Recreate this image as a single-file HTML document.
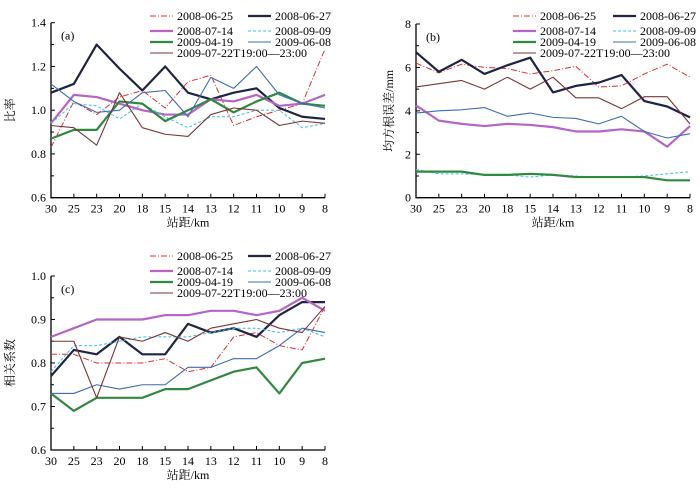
<!DOCTYPE html>
<html><head><meta charset="utf-8">
<style>
body{margin:0;background:#fff;}
svg{display:block;font-family:"Liberation Serif","Noto Serif CJK SC",serif;}
</style></head>
<body>
<svg id="chart" width="700" height="490" viewBox="0 0 700 490" xmlns="http://www.w3.org/2000/svg"></svg>
<script>
const categories = ["30","25","23","20","18","15","14","13","12","11","10","9","8"];
const seriesNames = ["2008-06-25","2008-06-27","2008-07-14","2008-09-09","2009-04-19","2009-06-08","2009-07-22T19:00—23:00"];
// panel a: ratio
const ratio_0625 = [0.83,1.04,0.98,1.06,1.09,1.01,1.13,1.16,0.93,0.97,1.00,1.03,1.28];
const ratio_0627 = [1.08,1.12,1.30,1.19,1.09,1.20,1.08,1.05,1.08,1.10,1.01,0.97,0.96];
const ratio_0714 = [0.94,1.07,1.06,1.03,1.00,0.98,0.98,1.05,1.04,1.07,1.02,1.03,1.07];
const ratio_0909 = [0.94,1.03,1.02,0.96,1.03,0.97,0.92,0.97,0.97,1.00,1.00,0.92,0.94];
const ratio_0419 = [0.87,0.91,0.91,1.04,1.03,0.95,1.00,1.05,0.99,1.04,1.08,1.03,1.02];
const ratio_0608 = [1.12,1.04,0.99,1.00,1.08,1.09,0.97,1.15,1.10,1.20,1.07,1.03,1.01];
const ratio_0722 = [0.93,0.92,0.84,1.08,0.92,0.89,0.88,0.98,1.01,1.00,0.93,0.95,0.94];
// panel b: RMSE (mm)
const rmse_0625 = [6.2,5.75,6.15,6.0,5.95,5.7,5.85,6.05,5.1,5.15,5.7,6.15,5.55];
const rmse_0627 = [6.7,5.8,6.35,5.7,6.1,6.45,4.85,5.15,5.3,5.65,4.45,4.2,3.7];
const rmse_0714 = [4.25,3.55,3.4,3.3,3.4,3.35,3.25,3.05,3.05,3.15,3.05,2.35,3.3];
const rmse_0909 = [1.3,1.1,1.1,1.05,1.05,0.95,1.05,1.0,0.95,0.95,1.0,1.1,1.2];
const rmse_0419 = [1.2,1.2,1.2,1.05,1.05,1.1,1.05,0.95,0.95,0.95,0.95,0.8,0.8];
const rmse_0608 = [3.9,4.0,4.05,4.15,3.75,3.9,3.7,3.65,3.4,3.75,3.05,2.75,2.95];
const rmse_0722 = [5.1,5.25,5.4,5.0,5.55,5.0,5.55,4.6,4.6,4.1,4.65,4.65,3.4];
// panel c: correlation
const corr_0625 = [0.82,0.82,0.80,0.80,0.80,0.81,0.78,0.79,0.86,0.87,0.84,0.83,0.93];
const corr_0627 = [0.77,0.83,0.82,0.86,0.82,0.82,0.89,0.87,0.88,0.86,0.91,0.94,0.94];
const corr_0714 = [0.86,0.88,0.90,0.90,0.90,0.91,0.91,0.92,0.92,0.91,0.92,0.95,0.92];
const corr_0909 = [0.78,0.84,0.84,0.85,0.86,0.86,0.86,0.87,0.88,0.88,0.87,0.88,0.86];
const corr_0419 = [0.73,0.69,0.72,0.72,0.72,0.74,0.74,0.76,0.78,0.79,0.73,0.80,0.81];
const corr_0608 = [0.73,0.73,0.75,0.74,0.75,0.75,0.79,0.79,0.81,0.81,0.84,0.88,0.87];
const corr_0722 = [0.85,0.85,0.72,0.86,0.85,0.87,0.85,0.88,0.89,0.90,0.88,0.87,0.93];
const ticksA = ["0.6","0.8","1.0","1.2","1.4"];
const ticksB = ["0","2","4","6","8"];
const ticksC = ["0.6","0.7","0.8","0.9","1.0"];

const styles = [
 {c:"#d83030",w:1,d:"6,2,1,2"},
 {c:"#1e2444",w:2.2,d:""},
 {c:"#b565c8",w:2.2,d:""},
 {c:"#3cc0e0",w:1,d:"3,2"},
 {c:"#2f8a40",w:2.2,d:""},
 {c:"#3d6cb5",w:1.1,d:""},
 {c:"#7a3535",w:1.1,d:""}
];
const NS="http://www.w3.org/2000/svg";
const svg=document.getElementById('chart');
function mk(tag,attrs,parent){const e=document.createElementNS(NS,tag);for(const k in attrs)e.setAttribute(k,attrs[k]);(parent||svg).appendChild(e);return e;}

function panel(cfg){
  const g=mk('g',{});
  
  
  const x=i=>cfg.x0+(cfg.x1-cfg.x0)*i/(categories.length-1);
  const y=v=>cfg.y0+(cfg.y1-cfg.y0)*(v-cfg.min)/(cfg.max-cfg.min);
  // axes
  const ax=mk('path',{d:`M${cfg.x0},${cfg.y1} L${cfg.x0},${cfg.y0} L${cfg.x1},${cfg.y0}`,stroke:'#000',fill:'none','stroke-width':1.3},g);
  
  
  const nt=cfg.ticks.length;
  for(let k=0;k<nt;k++){
    const v=cfg.min+(cfg.max-cfg.min)*k/(nt-1);
    const yy=y(v);
    mk('line',{x1:cfg.x0,x2:cfg.x0+4,y1:yy,y2:yy,stroke:'#000'},g);
    if(k<nt-1){const ym=y(v+(cfg.max-cfg.min)/(nt-1)/2);mk('line',{x1:cfg.x0,x2:cfg.x0+3,y1:ym,y2:ym,stroke:'#000'},g);}
    const t=mk('text',{x:cfg.x0-5,y:yy+4,'text-anchor':'end','font-size':12},g);
    t.textContent=cfg.ticks[k];
    
    
  }
  categories.forEach((c,i)=>{
    mk('line',{x1:x(i),x2:x(i),y1:cfg.y0,y2:cfg.y0-4,stroke:'#000'},g);
    const t=mk('text',{x:x(i),y:cfg.y0+15,'text-anchor':'middle','font-size':12},g);
    t.textContent=c;
    
    
  });
  const xt=mk('text',{x:(cfg.x0+cfg.x1)/2,y:cfg.y0+29,'text-anchor':'middle','font-size':12},g);
  xt.textContent='站距/km';
  
  
  const yc=(cfg.y0+cfg.y1)/2;
  const yt=mk('text',{x:cfg.ytx,y:yc,'text-anchor':'middle','font-size':12,transform:`rotate(-90 ${cfg.ytx} ${yc})`},g);
  yt.textContent=cfg.ytitle;
  
  
  const pl=mk('text',{x:cfg.x0+10,y:cfg.y1+17,'font-size':12},g);
  pl.textContent=cfg.label;
  
  
  // series
  cfg.data.forEach((arr,s)=>{
    const st=styles[s];
    const p=mk('polyline',{points:arr.map((v,i)=>x(i)+','+y(v)).join(' '),fill:'none',stroke:st.c,'stroke-width':st.w,'stroke-dasharray':st.d,'stroke-linejoin':'round'},g);
    
    
  });
  // legend
  const rows=[cfg.ly,cfg.ly+15,cfg.ly+26,cfg.ly+37];
  seriesNames.forEach((n,s)=>{
    const r=Math.floor(s/2),col=s%2;
    const lx=col?cfg.lx2:cfg.lx1, yy=rows[r];
    const st=styles[s];
    const le=mk('g',{},g);
    
    
    mk('line',{x1:lx,x2:lx+23,y1:yy-4,y2:yy-4,stroke:st.c,'stroke-width':st.w,'stroke-dasharray':st.d},le);
    const t=mk('text',{x:lx+27,y:yy,'font-size':12},le);
    t.textContent=n;
  });
}
panel({id:'a',x0:51,x1:325,y0:197.7,y1:22.7,min:0.6,max:1.4,ticks:ticksA,ytitle:'比率',ytx:14,label:'(a)',lx1:150,lx2:248,ly:20,
  data:[ratio_0625,ratio_0627,ratio_0714,ratio_0909,ratio_0419,ratio_0608,ratio_0722]});
panel({id:'b',x0:416,x1:690,y0:197.7,y1:24,min:0,max:8,ticks:ticksB,ytitle:'均方根误差/mm',ytx:393,label:'(b)',lx1:513,lx2:613,ly:20,
  data:[rmse_0625,rmse_0627,rmse_0714,rmse_0909,rmse_0419,rmse_0608,rmse_0722]});
panel({id:'c',x0:51,x1:325,y0:450,y1:276,min:0.6,max:1.0,ticks:ticksC,ytitle:'相关系数',ytx:14,label:'(c)',lx1:150,lx2:248,ly:260,
  data:[corr_0625,corr_0627,corr_0714,corr_0909,corr_0419,corr_0608,corr_0722]});
</script>
</body></html>
